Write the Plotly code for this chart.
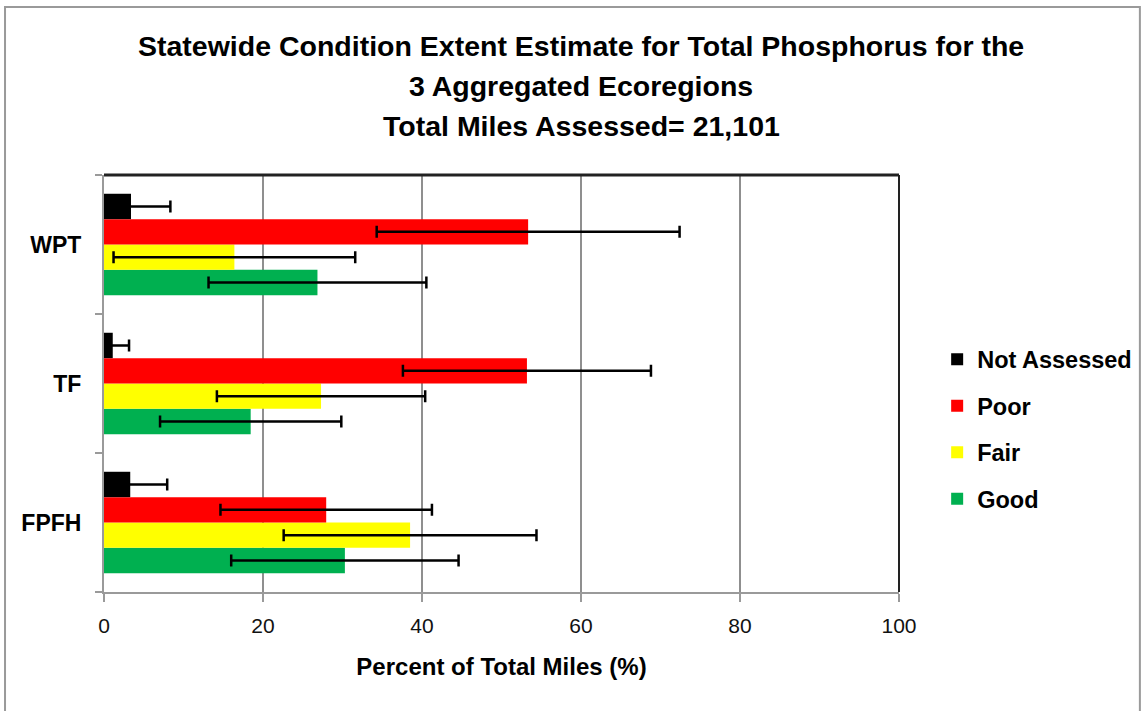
import plotly.graph_objects as go

# data
regions = ["FPFH", "TF", "WPT"]
series = ["Good", "Fair", "Poor", "Not Assessed"]
colors = {"Good": "#00B050", "Fair": "#FFFF00", "Poor": "#FF0000", "Not Assessed": "#000000"}
legend_rank = {"Not Assessed": 1, "Poor": 2, "Fair": 3, "Good": 4}

good = [30.3, 18.45, 26.85]
fair = [38.5, 27.3, 16.4]
poor = [27.95, 53.2, 53.35]
not_assessed = [3.3, 1.1, 3.4]

good_err = [14.3, 11.4, 13.7]
fair_err = [15.9, 13.1, 15.2]
poor_err = [13.3, 15.6, 19.05]
not_assessed_err = [4.65, 2.05, 4.95]

title_lines = ["Statewide Condition Extent Estimate for Total Phosphorus for the",
               "3 Aggregated Ecoregions",
               "Total Miles Assessed= 21,101"]

values = {"Good": good, "Fair": fair, "Poor": poor, "Not Assessed": not_assessed}
errors = {"Good": good_err, "Fair": fair_err, "Poor": poor_err, "Not Assessed": not_assessed_err}

fig = go.Figure()
for name in series:
    fig.add_trace(go.Bar(
        y=regions, x=values[name], name=name, orientation="h",
        marker=dict(color=colors[name], line=dict(width=0)),
        legendgroup=name, legendrank=legend_rank[name],
        error_x=dict(type="data", array=errors[name], visible=True,
                     color="black", thickness=2.5, width=6),
    ))

fig.update_layout(
    width=1144, height=711,
    margin=dict(l=104, r=245, t=175, b=119, autoexpand=False),
    paper_bgcolor="white", plot_bgcolor="white",
    barmode="group", bargap=0.27, bargroupgap=0,
    legend=dict(
        x=1.048, y=0.39, xanchor="left", yanchor="middle",
        traceorder="grouped", tracegroupgap=13,
        font=dict(family="Liberation Sans, Arial, sans-serif", size=23.5,
                  color="black", weight="bold"),
        itemwidth=30,
    ),
    xaxis=dict(
        range=[0, 100], dtick=20, showgrid=True, gridcolor="#8f8f8f", gridwidth=2,
        showline=True, linecolor="#9a9a9a", linewidth=2,
        ticks="outside", ticklen=8, tickcolor="#9a9a9a", tickwidth=2,
        ticklabelstandoff=6,
        tickfont=dict(family="Liberation Sans, Arial, sans-serif", size=21, color="#111111"),
        title=dict(text="Percent of Total Miles (%)", standoff=22,
                   font=dict(family="Liberation Sans, Arial, sans-serif",
                             size=24, color="black", weight="bold")),
        zeroline=False, automargin=False,
    ),
    yaxis=dict(
        categoryorder="array", categoryarray=regions,
        showline=True, linecolor="#9a9a9a", linewidth=2,
        ticks="outside", ticklen=7, tickcolor="#9a9a9a", tickwidth=2,
        tickson="boundaries", showgrid=False,
        ticklabelstandoff=16, automargin=False,
        tickfont=dict(family="Liberation Sans, Arial, sans-serif", size=23,
                      color="black", weight="bold"),
    ),
    showlegend=True,
)

# three title lines, spaced like the original
for line, ypos in zip(title_lines, [1.309, 1.2134, 1.1175]):
    fig.add_annotation(text=line, xref="paper", yref="paper", x=0.6, y=ypos,
                       xanchor="center", yanchor="middle", showarrow=False,
                       font=dict(family="Liberation Sans, Arial, sans-serif",
                                 size=28.5, color="black", weight="bold"))

# dark top and right frame of plot area, outer chart border
fig.add_shape(type="line", xref="paper", yref="paper", x0=0, x1=1, y0=1, y1=1,
              line=dict(color="#222222", width=3))
fig.add_shape(type="line", xref="paper", yref="paper", x0=1, x1=1, y0=0, y1=1,
              line=dict(color="#222222", width=2))
fig.add_shape(type="rect", xref="paper", yref="paper",
              x0=-0.1245, x1=1.303, y0=-0.3, y1=1.403,
              line=dict(color="#9a9a9a", width=2))

# drop the default page margin so the figure sits at the window corner
fig.write_html("out.html", config={"displayModeBar": False},
               post_script="document.body.style.margin='0';")
